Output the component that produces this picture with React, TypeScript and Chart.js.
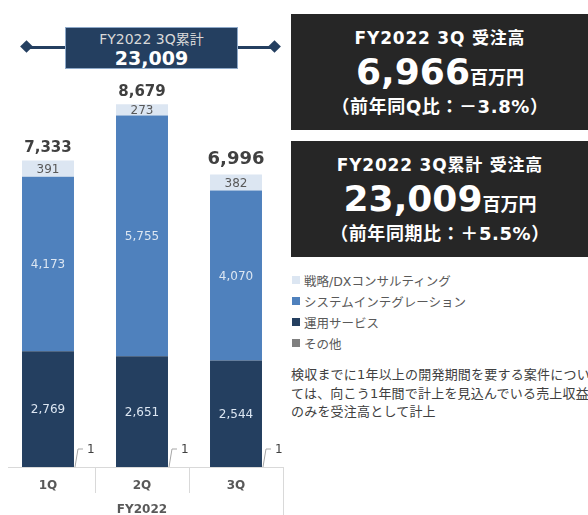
import React, { useEffect, useRef } from "react";
import { Chart, registerables } from "chart.js";

Chart.register(...registerables);

const categories = ["1Q", "2Q", "3Q"];
const groupLabel = "FY2022";
const operation = [2769, 2651, 2544];
const systemInt = [4173, 5755, 4070];
const strategy = [391, 273, 382];
const other = [1, 1, 1];
const seriesNames = ["戦略/DXコンサルティング", "システムインテグレーション", "運用サービス", "その他"];

const C_STRAT = "#DCE6F2";
const C_SYS = "#4F81BD";
const C_OPS = "#243F60";
const C_OTHER = "#7F7F7F";
const FONT = "'DejaVu Sans', 'Noto Sans CJK JP', sans-serif";

const overlayPlugin = {
  id: "overlay",
  afterDatasetsDraw(chart: any) {
    const ctx = chart.ctx;
    const xs = chart.scales.x;
    const area = chart.chartArea;
    const base = area.bottom;
    ctx.save();
    // axis
    ctx.strokeStyle = "#D9D9D9";
    ctx.lineWidth = 1;
    ctx.beginPath();
    ctx.moveTo(8, base + 0.5);
    ctx.lineTo(area.right, base + 0.5);
    const n = categories.length;
    const step = (xs.getPixelForValue(1) - xs.getPixelForValue(0));
    for (let i = 0; i < n; i++) {
      const xr = Math.round(xs.getPixelForValue(i) + step / 2) + 0.5;
      ctx.moveTo(xr, base);
      ctx.lineTo(xr, i === n - 1 ? chart.height : base + 26);
    }
    ctx.stroke();
    ctx.fillStyle = "#595959";
    ctx.font = "bold 12px " + FONT;
    ctx.textAlign = "center";
    ctx.textBaseline = "middle";
    categories.forEach((c, i) => ctx.fillText(c, xs.getPixelForValue(i), base + 19));
    ctx.fillText(groupLabel, (area.left + area.right) / 2, base + 43);

    // segment labels
    const labelColors: Record<number, string> = { 1: "#DCE6F2", 2: "#DCE6F2", 3: "#595959" };
    [1, 2, 3].forEach((di) => {
      const meta = chart.getDatasetMeta(di);
      const data = chart.data.datasets[di].data;
      meta.data.forEach((el: any, i: number) => {
        const cy = (el.y + el.base) / 2;
        ctx.fillStyle = labelColors[di];
        ctx.font = "12px " + FONT;
        ctx.fillText(Number(data[i]).toLocaleString("en-US"), el.x, cy + 1);
      });
    });

    // totals
    const topMeta = chart.getDatasetMeta(3);
    topMeta.data.forEach((el: any, i: number) => {
      const total = operation[i] + systemInt[i] + strategy[i];
      const big = i === n - 1;
      ctx.fillStyle = "#404040";
      ctx.font = "bold " + (big ? 18 : 15) + "px " + FONT;
      ctx.fillText(total.toLocaleString("en-US"), el.x, el.y - (big ? 15 : 12));
    });

    // leaders for その他
    const oMeta = chart.getDatasetMeta(0);
    oMeta.data.forEach((el: any, i: number) => {
      const xr = el.x + el.width / 2;
      ctx.strokeStyle = "#A6A6A6";
      ctx.lineWidth = 1;
      ctx.beginPath();
      ctx.moveTo(xr + 1, el.base);
      ctx.lineTo(xr + 4, el.base - 18);
      ctx.lineTo(xr + 9, el.base - 18);
      ctx.stroke();
      ctx.fillStyle = "#404040";
      ctx.font = "12px " + FONT;
      ctx.textAlign = "left";
      ctx.fillText(String(other[i]), xr + 13, el.base - 17);
      ctx.textAlign = "center";
    });
    ctx.restore();
  },
};

function BarChart() {
  const ref = useRef<HTMLCanvasElement>(null);
  useEffect(() => {
    const chart = new Chart(ref.current!, {
      type: "bar",
      data: {
        labels: categories,
        datasets: [
          { label: seriesNames[3], data: other, backgroundColor: C_OTHER },
          { label: seriesNames[2], data: operation, backgroundColor: C_OPS },
          { label: seriesNames[1], data: systemInt, backgroundColor: C_SYS },
          { label: seriesNames[0], data: strategy, backgroundColor: C_STRAT },
        ],
      },
      options: {
        responsive: false,
        devicePixelRatio: 1,
        animation: false,
        layout: { padding: { left: 1, right: 7, top: 49, bottom: 48 } },
        datasets: { bar: { categoryPercentage: 1, barPercentage: 0.553 } },
        plugins: { legend: { display: false }, tooltip: { enabled: false } },
        scales: {
          x: { stacked: true, display: false },
          y: { stacked: true, display: false, min: 0, max: 10000 },
        },
      } as any,
      plugins: [overlayPlugin],
    });
    return () => chart.destroy();
  }, []);
  return <canvas ref={ref} width={290} height={515} style={{ position: "absolute", left: 0, top: 0 }} />;
}

const boxStyle: React.CSSProperties = {
  position: "absolute",
  left: 291,
  width: 298,
  height: 116,
  background: "#262626",
  color: "#fff",
  fontWeight: "bold",
  textAlign: "center",
  fontFamily: FONT,
};

function InfoBox({ top, title, value, sub }: { top: number; title: string; value: string; sub: string }) {
  return (
    <div style={{ ...boxStyle, top }}>
      <div style={{ position: "absolute", left: 0, right: 0, top: 14, fontSize: 17, letterSpacing: 0.8, lineHeight: "20px", whiteSpace: "nowrap" }}>{title}</div>
      <div style={{ position: "absolute", left: 0, right: 0, top: 36, lineHeight: "44px", whiteSpace: "nowrap" }}>
        <span style={{ fontSize: 36 }}>{value}</span>
        <span style={{ fontSize: 18 }}>百万円</span>
      </div>
      <div style={{ position: "absolute", left: 0, right: 0, top: 82, fontSize: 18, letterSpacing: 0.6, lineHeight: "22px", whiteSpace: "nowrap" }}>{sub}</div>
    </div>
  );
}

const legendColors = [C_STRAT, C_SYS, C_OPS, C_OTHER];

export default function App() {
  return (
    <div style={{ position: "fixed", left: 0, top: 0, width: 588, height: 515, overflow: "hidden", background: "#fff", fontFamily: FONT }}>
      <BarChart />
      {/* banner */}
      <div style={{ position: "absolute", left: 27, top: 46, width: 248, height: 3, background: C_OPS }} />
      <div style={{ position: "absolute", left: 22, top: 42, width: 9, height: 9, background: C_OPS, transform: "rotate(45deg)" }} />
      <div style={{ position: "absolute", left: 270, top: 42, width: 9, height: 9, background: C_OPS, transform: "rotate(45deg)" }} />
      <div style={{ position: "absolute", left: 65, top: 27, width: 173, height: 42, background: C_OPS, border: "1px solid #8EA9C9", boxSizing: "border-box", textAlign: "center" }}>
        <div style={{ color: "#D9D9D9", fontSize: 14, lineHeight: "16px", marginTop: 3 }}>FY2022 3Q累計</div>
        <div style={{ color: "#fff", fontSize: 19, fontWeight: "bold", lineHeight: "22px" }}>23,009</div>
      </div>
      <InfoBox top={14} title="FY2022 3Q 受注高" value="6,966" sub="（前年同Q比：－3.8%）" />
      <InfoBox top={141} title="FY2022 3Q累計 受注高" value="23,009" sub="（前年同期比：＋5.5%）" />
      {/* legend */}
      {seriesNames.map((s, i) => (
        <div key={s} style={{ position: "absolute", left: 292, top: 271 + i * 21, height: 18, display: "flex", alignItems: "center", fontSize: 12.5, color: "#595959", whiteSpace: "nowrap" }}>
          <span style={{ display: "inline-block", width: 8, height: 8, background: legendColors[i], marginRight: 4 }} />
          {s}
        </div>
      ))}
      <div style={{ position: "absolute", left: 291, top: 366, fontSize: 13, letterSpacing: 0.2, lineHeight: "18.5px", color: "#404040", whiteSpace: "nowrap" }}>
        <div>検収までに1年以上の開発期間を要する案件につい</div>
        <div>ては、向こう1年間で計上を見込んでいる売上収益</div>
        <div>のみを受注高として計上</div>
      </div>
    </div>
  );
}
